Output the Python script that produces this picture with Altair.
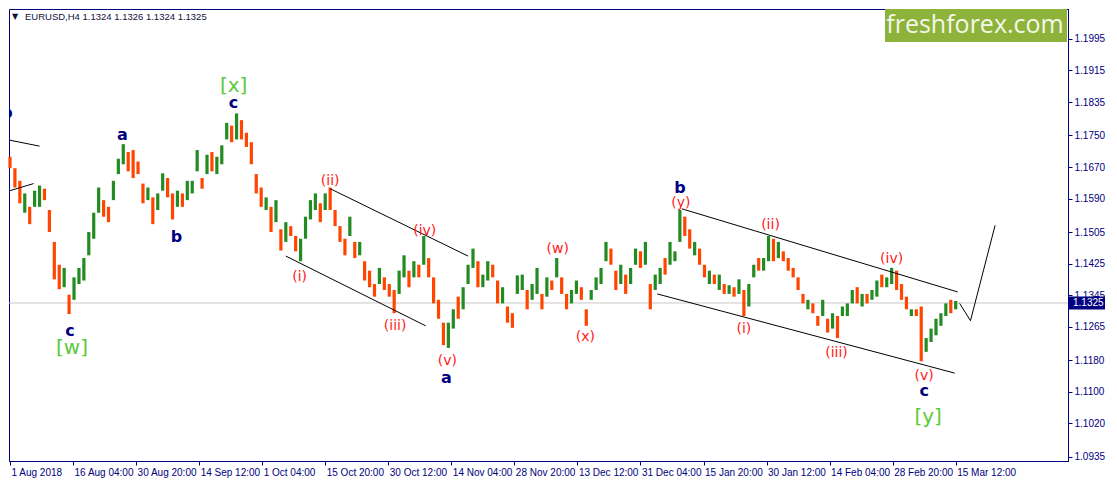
import altair as alt
import numpy as np
import pandas as pd

# ---------------- data ----------------
# one column per ~5 H4 candles: price range drawn from open to close
bar_open = [
    1.1696, 1.1667, 1.1635, 1.1554, 1.1569, 1.1569, 1.1569, 1.1615, 1.1561, 1.1480,
    1.1422, 1.1365, 1.1346, 1.1333, 1.1373, 1.1382, 1.1446, 1.1488, 1.1554, 1.1586,
    1.1569, 1.1586, 1.1652, 1.1677, 1.1708, 1.1713, 1.1684, 1.1628, 1.1586, 1.1593,
    1.1561, 1.1610, 1.1642, 1.1603, 1.1569, 1.1603, 1.1586, 1.1603, 1.1659, 1.1642,
    1.1652, 1.1708, 1.1652, 1.1677, 1.1740, 1.1775, 1.1740, 1.1789, 1.1757, 1.1733,
    1.1652, 1.1618, 1.1561, 1.1569, 1.1530, 1.1512, 1.1480, 1.1520, 1.1495, 1.1431,
    1.1488, 1.1537, 1.1561, 1.1578, 1.1561, 1.1618, 1.1561, 1.1520, 1.1488, 1.1495,
    1.1480, 1.1446, 1.1431, 1.1407, 1.1373, 1.1373, 1.1390, 1.1373, 1.1358, 1.1348,
    1.1390, 1.1407, 1.1390, 1.1422, 1.1422, 1.1439, 1.1390, 1.1333, 1.1275, 1.1211,
    1.1260, 1.1341, 1.1309, 1.1373, 1.1414, 1.1431, 1.1365, 1.1382, 1.1422, 1.1382,
    1.1324, 1.1316, 1.1299, 1.1348, 1.1358, 1.1358, 1.1333, 1.1348, 1.1348, 1.1341,
    1.1382, 1.1390, 1.1390, 1.1348, 1.1324, 1.1348, 1.1365, 1.1309, 1.1333, 1.1358,
    1.1373, 1.1431, 1.1463, 1.1407, 1.1373, 1.1397, 1.1373, 1.1422, 1.1456, 1.1422,
    1.1373, 1.1358, 1.1373, 1.1439, 1.1422, 1.1431, 1.1480, 1.1544, 1.1512, 1.1446,
    1.1463, 1.1422, 1.1373, 1.1397, 1.1358, 1.1373, 1.1348, 1.1365, 1.1348, 1.1358,
    1.1316, 1.1390, 1.1439, 1.1407, 1.1431, 1.1488, 1.1439, 1.1456, 1.1439, 1.1414,
    1.1390, 1.1348, 1.1309, 1.1324, 1.1292, 1.1292, 1.1285, 1.1260, 1.1292, 1.1292,
    1.1292, 1.1324, 1.1365, 1.1316, 1.1348, 1.1333, 1.1341, 1.1397, 1.1365, 1.1373,
    1.1407, 1.1373, 1.1341, 1.1292, 1.1309, 1.1316, 1.1201, 1.1226, 1.1243, 1.1267,
    1.1292, 1.1333, 1.1309,
]
bar_close = [
    1.1667, 1.1618, 1.1578, 1.1603, 1.1525, 1.1610, 1.1623, 1.1586, 1.1505, 1.1385,
    1.1360, 1.1414, 1.1297, 1.1390, 1.1414, 1.1439, 1.1505, 1.1554, 1.1618, 1.1544,
    1.1530, 1.1635, 1.1691, 1.1728, 1.1659, 1.1642, 1.1652, 1.1578, 1.1618, 1.1525,
    1.1603, 1.1654, 1.1593, 1.1537, 1.1610, 1.1569, 1.1635, 1.1635, 1.1713, 1.1615,
    1.1701, 1.1659, 1.1696, 1.1725, 1.1782, 1.1733, 1.1806, 1.1740, 1.1721, 1.1677,
    1.1603, 1.1569, 1.1593, 1.1505, 1.1586, 1.1458, 1.1530, 1.1495, 1.1456, 1.1488,
    1.1544, 1.1586, 1.1603, 1.1530, 1.1603, 1.1561, 1.1520, 1.1480, 1.1446, 1.1544,
    1.1439, 1.1480, 1.1382, 1.1365, 1.1341, 1.1414, 1.1358, 1.1341, 1.1299, 1.1407,
    1.1446, 1.1365, 1.1431, 1.1390, 1.1495, 1.1390, 1.1324, 1.1285, 1.1218, 1.1275,
    1.1309, 1.1285, 1.1365, 1.1422, 1.1463, 1.1365, 1.1397, 1.1431, 1.1390, 1.1324,
    1.1365, 1.1275, 1.1262, 1.1395, 1.1397, 1.1309, 1.1373, 1.1414, 1.1309, 1.1390,
    1.1358, 1.1439, 1.1348, 1.1309, 1.1358, 1.1382, 1.1333, 1.1267, 1.1358, 1.1390,
    1.1414, 1.1480, 1.1422, 1.1358, 1.1422, 1.1348, 1.1414, 1.1463, 1.1414, 1.1480,
    1.1309, 1.1397, 1.1414, 1.1397, 1.1480, 1.1456, 1.1561, 1.1495, 1.1463, 1.1480,
    1.1422, 1.1390, 1.1407, 1.1373, 1.1397, 1.1348, 1.1370, 1.1341, 1.1385, 1.1292,
    1.1373, 1.1422, 1.1407, 1.1439, 1.1495, 1.1431, 1.1480, 1.1431, 1.1407, 1.1390,
    1.1358, 1.1324, 1.1333, 1.1299, 1.1267, 1.1333, 1.1250, 1.1299, 1.1236, 1.1316,
    1.1324, 1.1358, 1.1324, 1.1348, 1.1324, 1.1358, 1.1382, 1.1365, 1.1390, 1.1414,
    1.1358, 1.1333, 1.1309, 1.1309, 1.1292, 1.1177, 1.1236, 1.1260, 1.1285, 1.1299,
    1.1324, 1.1299, 1.1330,
]

last_price = 1.1325
header_text = "EURUSD,H4  1.1324 1.1326 1.1324 1.1325"

price_ticks = [1.1995, 1.1915, 1.1835, 1.1750, 1.1670, 1.1590, 1.1505,
               1.1425, 1.1345, 1.1265, 1.1180, 1.1100, 1.1020, 1.0935]
date_labels = ["1 Aug 2018", "16 Aug 04:00", "30 Aug 20:00", "14 Sep 12:00",
               "1 Oct 04:00", "15 Oct 20:00", "30 Oct 12:00", "14 Nov 04:00",
               "28 Nov 20:00", "13 Dec 12:00", "31 Dec 04:00", "15 Jan 20:00",
               "30 Jan 12:00", "14 Feb 04:00", "28 Feb 20:00", "15 Mar 12:00"]
cols_per_date = 12.8

# Elliott wave labels (column, price, text, style)
lab_i = [45.4, 45.4, 22.8, 33.8, 12.2, 12.6, 58.8, 65.0, 78.2, 84.2, 88.8, 88.6,
         111.2, 116.8, 136.0, 136.2, 149.0, 154.4, 167.8, 179.0, 185.6, 185.6, 186.4]
lab_p = [1.1876, 1.1833, 1.1750, 1.1493, 1.1255, 1.1211, 1.1390, 1.1635, 1.1267,
         1.1507, 1.1179, 1.1135, 1.1461, 1.1238, 1.1617, 1.1578, 1.1258, 1.1522,
         1.1199, 1.1436, 1.1140, 1.1101, 1.1035]
lab_text = ["[x]", "c", "a", "b", "c", "[w]", "(i)", "(ii)", "(iii)", "(iv)", "(v)", "a",
            "(w)", "(x)", "b", "(y)", "(i)", "(ii)", "(iii)", "(iv)", "(v)", "c", "[y]"]
lab_kind = ["green", "navy", "navy", "navy", "navy", "green", "red", "red", "red", "red",
            "red", "navy", "red", "red", "navy", "red", "red", "red", "red", "red",
            "red", "navy", "green"]

# labels cut by the left edge
edge_i = [-0.6, -2.6]
edge_p = [1.1806, 1.1757]
edge_text = ["b", "(v)"]
edge_kind = ["navy", "red"]

# channel lines and projected path
seg_x0 = [0.0, 0.0, 65.0, 56.0, 136.4, 131.4, 192.8, 195.0]
seg_x1 = [6.0, 4.8, 93.0, 84.4, 192.4, 191.8, 195.0, 200.0]
seg_p0 = [1.1738, 1.1610, 1.1615, 1.1444, 1.1564, 1.1348, 1.1324, 1.1280]
seg_p1 = [1.1723, 1.1628, 1.1444, 1.1267, 1.1353, 1.1147, 1.1280, 1.1522]

# ---------------- styling ----------------
W, H = 1059, 452
NAVY = "#000080"
GREEN = "#228b22"
ORANGE = "#ff4500"
RED = "#ff1a1a"
LIME = "#5cc93a"
FONT = "DejaVu Sans"
AXFONT = "Liberation Sans"

xs = alt.Scale(domain=[-0.2, 214.8], nice=False, zero=False)
ys = alt.Scale(domain=[1.0924, 1.2071], nice=False, zero=False)

df = pd.DataFrame({"i": np.arange(len(bar_open)), "open": bar_open, "close": bar_close})
df["dir"] = np.where(df["close"] >= df["open"], "up", "down")

tick_pos = [round(k * cols_per_date, 2) for k in range(len(date_labels))]
label_expr = "[" + ",".join("'" + s + "'" for s in date_labels) + "][round(datum.value / %s)]" % cols_per_date

x_axis = alt.Axis(values=tick_pos, labelExpr=label_expr, title=None, grid=False,
                  labelAlign="left", labelOffset=1, labelPadding=2, tickSize=4,
                  labelFlush=False, labelOverlap=False, labelBound=False,
                  domainColor=NAVY, tickColor=NAVY, labelColor=NAVY,
                  labelFont=AXFONT, labelFontSize=10)
y_axis = alt.Axis(orient="right", values=price_ticks, format=".4f", title=None,
                  grid=False, tickSize=4, labelPadding=2, labelOverlap=False,
                  labelFlush=False, labelBound=False,
                  domainColor=NAVY, tickColor=NAVY, labelColor=NAVY,
                  labelFont=AXFONT, labelFontSize=10)


def X(field):
    return alt.X(field, scale=xs, axis=x_axis)


def Y(field):
    return alt.Y(field, scale=ys, axis=y_axis)


price_line = alt.Chart(pd.DataFrame({"p": [last_price]})).mark_rule(
    color="#c8c8c8", strokeWidth=1).encode(y=Y("p:Q"))

candles = alt.Chart(df).mark_rule(strokeWidth=3.2, strokeCap="butt").encode(
    x=X("i:Q"),
    y=Y("open:Q"),
    y2="close:Q",
    color=alt.Color("dir:N", scale=alt.Scale(domain=["up", "down"], range=[GREEN, ORANGE]),
                    legend=None),
)

segs = pd.DataFrame({"x0": seg_x0, "x1": seg_x1, "p0": seg_p0, "p1": seg_p1})
lines = alt.Chart(segs).mark_rule(color="black", strokeWidth=1).encode(
    x=X("x0:Q"), x2="x1:Q", y=Y("p0:Q"), y2="p1:Q")

labs = pd.DataFrame({"i": lab_i, "p": lab_p, "t": lab_text, "k": lab_kind})
style = {"red": (RED, 14, "normal"), "navy": (NAVY, 16, "bold"), "green": (LIME, 20, "normal")}
label_layers = []
for kind, (col, size, weight) in style.items():
    label_layers.append(
        alt.Chart(labs[labs["k"] == kind]).mark_text(
            color=col, fontSize=size, font=FONT, fontWeight=weight,
            align="center", baseline="middle").encode(
            x=X("i:Q"), y=Y("p:Q"), text="t:N"))

edge = pd.DataFrame({"i": edge_i, "p": edge_p, "t": edge_text, "k": edge_kind})
for kind in ["red", "navy"]:
    col, size, weight = style[kind]
    label_layers.append(
        alt.Chart(edge[edge["k"] == kind]).mark_text(
            color=col, fontSize=size, font=FONT, fontWeight=weight,
            align="center", baseline="middle", clip=True).encode(
            x=X("i:Q"), y=Y("p:Q"), text="t:N"))

one = pd.DataFrame({"a": [0]})
header_arrow = alt.Chart(one).mark_text(
    fontSize=8, font=FONT, color="#101040", align="left", baseline="middle").encode(
    x=alt.value(3), y=alt.value(8), text=alt.value("\u25bc"))
header = alt.Chart(one).mark_text(
    fontSize=9.5, font=AXFONT, color="#101040", align="left", baseline="middle").encode(
    x=alt.value(16), y=alt.value(8), text=alt.value(header_text))

logo_box = alt.Chart(one).mark_rect(color="#8db33a").encode(
    x=alt.value(876), x2=alt.value(1058), y=alt.value(0), y2=alt.value(33))
logo_text = alt.Chart(one).mark_text(
    fontSize=25, font="Open Sans", color="#f4f7ea", align="center", baseline="middle").encode(
    x=alt.value(966), y=alt.value(16), text=alt.value("freshforex.com"))

pbox_df = pd.DataFrame({"p": [last_price], "t": ["%.4f" % last_price]})
price_box = alt.Chart(pbox_df).mark_rule(color=NAVY, strokeWidth=13, strokeCap="butt").encode(
    x=alt.value(W + 1), x2=alt.value(W + 37), y=Y("p:Q"))
price_box_text = alt.Chart(pbox_df).mark_text(
    color="white", fontSize=10, font=AXFONT, align="left", baseline="middle").encode(
    x=alt.value(W + 5), y=Y("p:Q"), text="t:N")

chart = alt.layer(
    price_line, candles, lines, *label_layers,
    header_arrow, header, logo_box, logo_text, price_box, price_box_text,
).properties(
    width=W, height=H,
    autosize=alt.AutoSizeParams(type="none"),
    padding={"left": 1, "top": 1, "right": 40, "bottom": 18},
    background="white",
).configure_view(stroke=NAVY, strokeWidth=1).configure_axis(labelOverlap=False)

chart.save("out.html", embed_options={"renderer": "svg", "actions": False})
